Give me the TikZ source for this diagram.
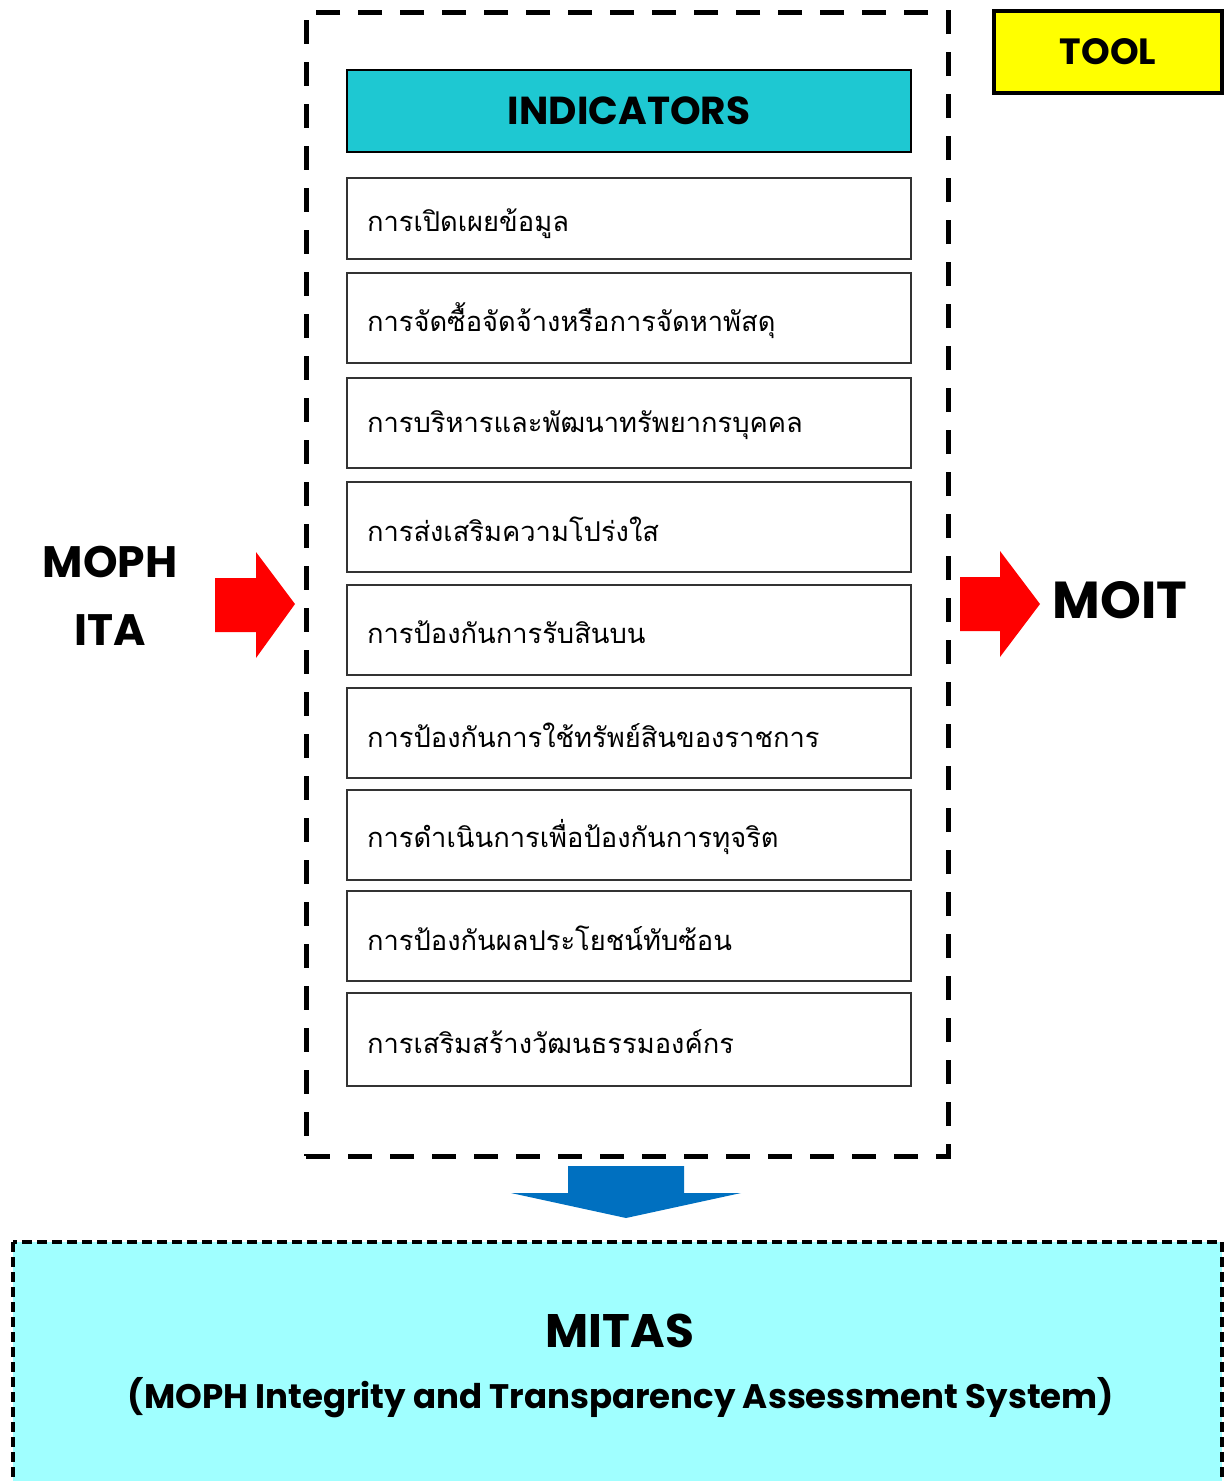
\documentclass[tikz,border=0pt]{standalone}
\usepackage{fontspec}
\setmainfont{Poppins}
\newfontfamily\thaifont[Script=Thai]{Loma}
\definecolor{indcyan}{RGB}{30,200,210}
\definecolor{toolyellow}{RGB}{255,255,0}
\definecolor{mitascyan}{RGB}{160,255,255}
\definecolor{arrowred}{RGB}{255,0,0}
\definecolor{arrowblue}{RGB}{0,112,192}
\newcommand{\lowtxt}[1]{\raisebox{-2.5pt}[\height][\depth]{#1}}
\tikzset{
  itembox/.style={draw=black!80, line width=1.5pt, fill=white, minimum width=564pt,
    text width=524pt, inner xsep=20pt, inner ysep=0pt, align=left,
    font=\thaifont\fontsize{27.3}{32}\selectfont},
  headbox/.style={draw=black, line width=2.5pt, fill=indcyan, minimum width=564pt,
    minimum height=82pt, font=\bfseries\fontsize{39}{44}\selectfont},
  toolbox/.style={draw=black, line width=3.5pt, fill=toolyellow, minimum width=228pt,
    minimum height=82pt, font=\bfseries\fontsize{36.5}{40}\selectfont},
  outerdash/.style={draw=black, line width=5pt, dash pattern=on 24pt off 18pt},
  mitasdash/.style={draw=black, line width=4pt, dash pattern=on 10pt off 5pt, fill=mitascyan},
  bigtext/.style={font=\bfseries\fontsize{44}{48}\selectfont, inner sep=0pt},
}
\begin{document}
\begin{tikzpicture}[x=1pt, y=-1pt]
\useasboundingbox (0,0) rectangle (1224,1481);
\begin{scope}
\clip (0,0) rectangle (1224,1481);
% bottom MITAS box
\path[mitasdash] (13,1242) rectangle (1222,1520);
\end{scope}
\node[font=\bfseries\fontsize{47}{52}\selectfont, inner sep=0pt] (mitas) at (620,1331) {MITAS};
\node[font=\bfseries\fontsize{34}{40}\selectfont, inner sep=0pt] (mitasfull) at (621,1398)
  {(MOPH Integrity and Transparency Assessment System)};
% outer dashed frame
\node[outerdash, minimum width=642pt, minimum height=1144pt, inner sep=0pt] (frame) at (627,584) {};
% header
\node[headbox] (head) at (629,111) {INDICATORS};
% items
\node[itembox, minimum height=81pt] (i1) at (629,218.5) {\raisebox{-5pt}[\height][\depth]{การเปิดเผยข้อมูล}};
\node[itembox, minimum height=90pt] (i2) at (629,318) {\lowtxt{การจัดซื้อจัดจ้างหรือการจัดหาพัสดุ}};
\node[itembox, minimum height=90pt] (i3) at (629,423) {\lowtxt{การบริหารและพัฒนาทรัพยากรบุคคล}};
\node[itembox, minimum height=90pt] (i4) at (629,527) {\lowtxt{การส่งเสริมความโปร่งใส}};
\node[itembox, minimum height=90pt] (i5) at (629,630) {\lowtxt{การป้องกันการรับสินบน}};
\node[itembox, minimum height=90pt] (i6) at (629,733) {\lowtxt{การป้องกันการใช้ทรัพย์สินของราชการ}};
\node[itembox, minimum height=90pt] (i7) at (629,835) {\lowtxt{การดำเนินการเพื่อป้องกันการทุจริต}};
\node[itembox, minimum height=90pt] (i8) at (629,936) {\lowtxt{การป้องกันผลประโยชน์ทับซ้อน}};
\node[itembox, minimum height=93pt] (i9) at (629,1039.5) {\lowtxt{การเสริมสร้างวัฒนธรรมองค์กร}};
% tool
\node[toolbox] (tool) at (1108,52) {TOOL};
% left labels
\node[bigtext] (moph) at (110,562) {MOPH};
\node[bigtext] (ita) at (110,630) {ITA};
\node[font=\bfseries\fontsize{52}{56}\selectfont, inner sep=0pt] (moit) at (1120,600) {MOIT};
% red arrows
\fill[arrowred] (215,578) -- (256,578) -- (256,552) -- (295,604) -- (256,658) -- (256,632) -- (215,632) -- cycle;
\fill[arrowred] (960,577) -- (1000,577) -- (1000,551) -- (1040,604) -- (1000,657) -- (1000,631) -- (960,631) -- cycle;
% blue arrow
\fill[arrowblue] (568,1166) -- (684,1166) -- (684,1193) -- (741,1193) -- (626,1218) -- (511,1193) -- (568,1193) -- cycle;
\end{tikzpicture}
\end{document}
